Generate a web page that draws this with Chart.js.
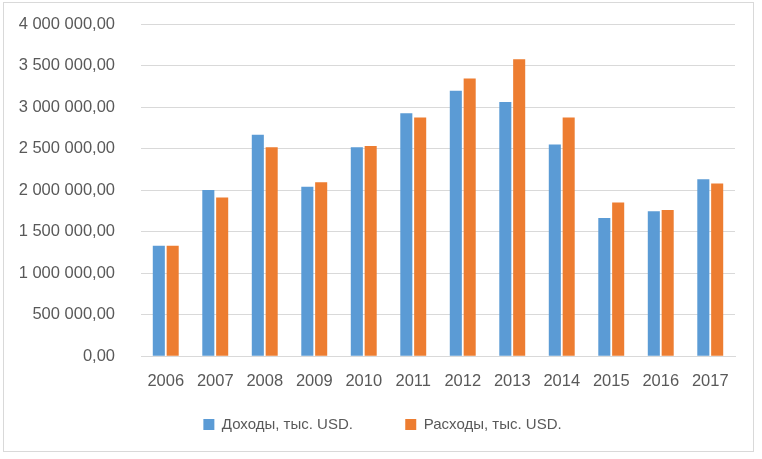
<!DOCTYPE html>
<html>
<head>
<meta charset="utf-8">
<script src="https://cdn.jsdelivr.net/npm/chart.js@4/dist/chart.umd.min.js"></script>
<style>
    body { margin: 0; background: #fff; }
    #wrap { position: relative; width: 762px; height: 459px; }
    #frame { position: absolute; left: 3px; top: 2px; width: 751px; height: 450px; border: 1px solid #d9d9d9; box-sizing: border-box; }
    canvas { position: absolute; left: 0; top: 0; }
</style>
</head>
<body>
<div id="wrap">
    <div id="frame"></div>
    <canvas id="chart" width="762" height="459"></canvas>
</div>
<script>
const years = ["2006", "2007", "2008", "2009", "2010", "2011", "2012", "2013", "2014", "2015", "2016", "2017"];
const income = [1330000, 2000000, 2665000, 2040000, 2515000, 2925000, 3195000, 3060000, 2550000, 1665000, 1745000, 2130000];
const expenses = [1330000, 1910000, 2515000, 2095000, 2530000, 2875000, 3345000, 3575000, 2875000, 1850000, 1760000, 2080000];
const seriesNames = ["Доходы, тыс. USD.", "Расходы, тыс. USD."];

const textColor = "#595959";
const font = { family: "Liberation Sans, Arial, sans-serif", size: 16.5 };
const legendFont = { family: "Liberation Sans, Arial, sans-serif", size: 15 };

function fmt(v) {
    const s = Math.round(v).toString().replace(/\B(?=(\d{3})+(?!\d))/g, " ");
    return s + ",00";
}

// legend row sits a bit right of the canvas centre in the original
const legendShift = {
    id: "legendShift",
    afterLayout(chart) {
        chart.legend.left += 10;
        chart.legend.right += 10;
    }
};

const ctx = document.getElementById("chart").getContext("2d");
new Chart(ctx, {
    type: "bar",
    data: {
        labels: years,
        datasets: [
            { label: seriesNames[0], data: income, backgroundColor: "#5b9bd5" },
            { label: seriesNames[1], data: expenses, backgroundColor: "#ed7d31" }
        ]
    },
    plugins: [legendShift],
    options: {
        responsive: false,
        animation: false,
        layout: { padding: { left: 10, right: 27, top: 24, bottom: 17 } },
        datasets: { bar: { categoryPercentage: 0.56, barPercentage: 0.87 } },
        plugins: {
            legend: {
                position: "bottom",
                labels: {
                    color: textColor,
                    font: legendFont,
                    boxWidth: 11,
                    boxHeight: 11,
                    padding: 19,
                    // widen the gap between the two legend items
                    generateLabels: chart => {
                        const items = Chart.defaults.plugins.legend.labels.generateLabels(chart);
                        items[0].text = items[0].text + "\u00a0".repeat(8);
                        return items;
                    }
                }
            },
            tooltip: { enabled: false }
        },
        scales: {
            x: {
                grid: { display: false },
                border: { color: "#d9d9d9" },
                ticks: { color: textColor, font: font, padding: 7, maxRotation: 0 }
            },
            y: {
                min: 0,
                max: 4000000,
                afterFit: s => {
                    s.width = 131;
                    // tick padding should only push labels sideways
                    s.paddingTop = 0;
                    s.paddingBottom = 0;
                },
                grid: { color: "#d9d9d9", drawTicks: false },
                border: { display: false },
                ticks: { stepSize: 500000, color: textColor, font: font, padding: 26, callback: v => fmt(v) }
            }
        }
    }
});
</script>
</body>
</html>
